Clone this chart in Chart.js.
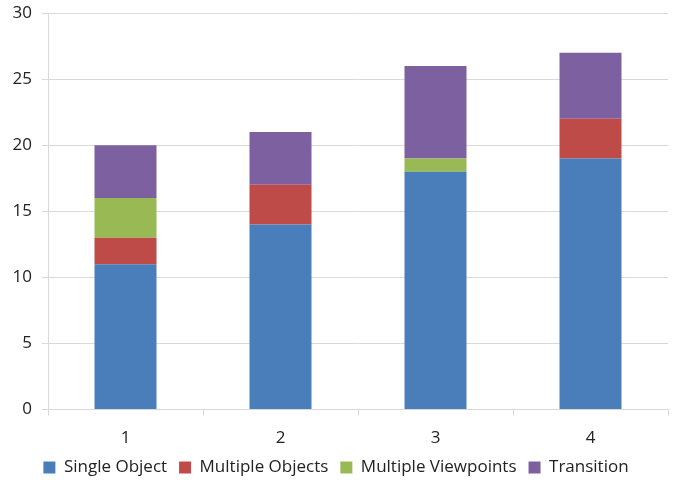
<!DOCTYPE html>
<html>
<head>
<meta charset="utf-8">
<script src="https://cdn.jsdelivr.net/npm/chart.js@4"></script>
<style>
  html, body { margin: 0; padding: 0; background: #fff; }
  #wrap { width: 676px; height: 480px; }
</style>
</head>
<body>
<div id="wrap"><canvas id="chart"></canvas></div>
<script>
const categories = ['1', '2', '3', '4'];
const singleObject = [11, 14, 18, 19];
const multipleObjects = [2, 3, 0, 3];
const multipleViewpoints = [3, 0, 1, 0];
const transition = [4, 4, 7, 5];

// legend is drawn tighter to the bottom edge than Chart.js allows by default
const legendTrim = {
  id: 'legendTrim',
  beforeInit(chart) {
    const legend = chart.legend;
    const fit = legend.fit.bind(legend);
    legend.fit = function () {
      fit();
      this.height -= 6;
    };
  }
};

const ctx = document.getElementById('chart').getContext('2d');
new Chart(ctx, {
  type: 'bar',
  data: {
    labels: categories,
    datasets: [
      { label: 'Single Object', data: singleObject, backgroundColor: '#4A7EBB' },
      { label: 'Multiple Objects', data: multipleObjects, backgroundColor: '#BE4B48' },
      { label: 'Multiple Viewpoints', data: multipleViewpoints, backgroundColor: '#98B954' },
      { label: 'Transition', data: transition, backgroundColor: '#7D60A0' }
    ]
  },
  plugins: [legendTrim],
  options: {
    responsive: true,
    maintainAspectRatio: false,
    animation: false,
    layout: { padding: { left: 4, right: 8, top: 13, bottom: 0 } },
    datasets: { bar: { categoryPercentage: 0.4, barPercentage: 1 } },
    scales: {
      x: {
        stacked: true,
        afterFit: (scale) => { scale.height -= 13; },
        grid: { drawOnChartArea: false, color: '#d9d9d9', tickLength: 6 },
        border: { color: '#d9d9d9' },
        ticks: { color: '#222', font: { family: 'Open Sans', size: 17 }, padding: 12 }
      },
      y: {
        stacked: true,
        min: 0,
        max: 30,
        afterFit: (scale) => { scale.width = 44; scale.paddingTop = 0; },
        ticks: { stepSize: 5, color: '#222', font: { family: 'Open Sans', size: 17 }, padding: 10 },
        grid: { color: '#d9d9d9', tickLength: 6 },
        border: { color: '#d9d9d9' }
      }
    },
    plugins: {
      tooltip: { enabled: false },
      legend: {
        position: 'bottom',
        labels: {
          boxWidth: 12,
          boxHeight: 12,
          padding: 12,
          color: '#222',
          font: { family: 'Open Sans', size: 17 }
        }
      }
    }
  }
});
</script>
</body>
</html>
